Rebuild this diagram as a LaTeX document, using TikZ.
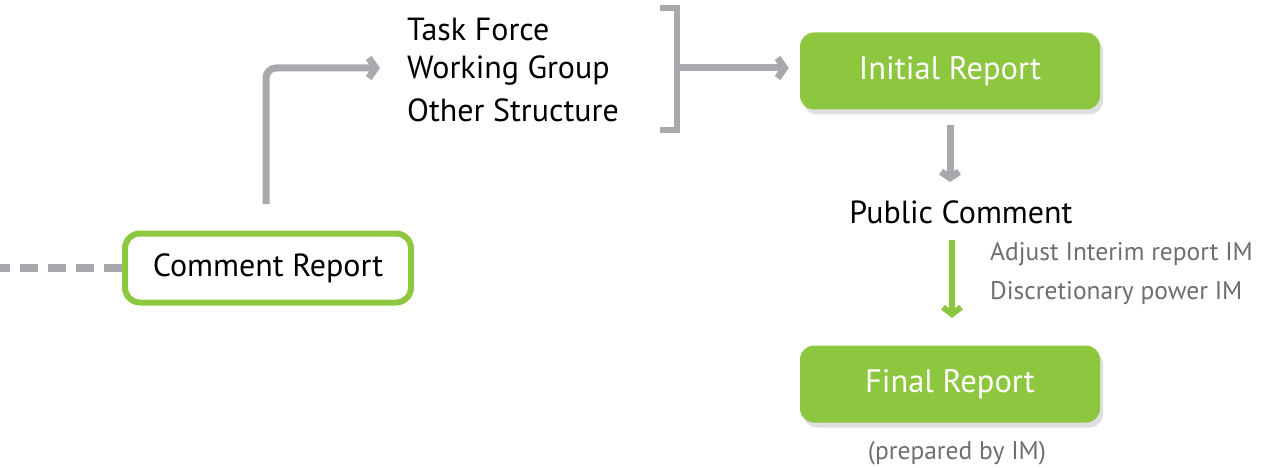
\documentclass[tikz,border=0pt]{standalone}
\usepackage{fontspec}
\setmainfont{PT Sans}
\usetikzlibrary{arrows.meta,shadows}
\definecolor{grn}{HTML}{8DC63F}
\definecolor{gry}{HTML}{A7A9AC}
\definecolor{txtg}{HTML}{6D6E71}
\begin{document}
\begin{tikzpicture}[x=1pt,y=-1pt,
  greybar/.style={draw=gry,line width=7pt},
  garrow/.style={greybar,-{Straight Barb[length=7pt,width=20pt]}},
  greenarrow/.style={draw=grn,line width=6pt,-{Straight Barb[length=7pt,width=18pt]}},
  fillbox/.style={fill=grn,rounded corners=14pt,minimum width=300pt,minimum height=77pt,text=white,font=\fontsize{32.5}{38}\selectfont,
     drop shadow={opacity=0.25,shadow xshift=3pt,shadow yshift=-5pt}},
  outbox/.style={draw=grn,line width=6pt,rounded corners=15pt,minimum width=286pt,minimum height=69pt,font=\fontsize{32}{38}\selectfont,fill=white},
  lbl/.style={font=\fontsize{32}{38}\selectfont,inner sep=0pt},
  smalllbl/.style={font=\fontsize{25.5}{30}\selectfont,text=txtg,inner sep=0pt}
]
\useasboundingbox (0,0) rectangle (1265,468);
% Comment report
\node[outbox] (cr) at (268,268) {Comment Report};
\coordinate (dstart) at (0,268);
\draw[draw=gry,line width=8pt,dash pattern=on 18pt off 10pt,dash phase=8pt] (dstart) -- (cr.west);
% list
\node[lbl,anchor=west] (tf) at (407,29) {Task Force};
\node[lbl,anchor=west] (wg) at (407,71) {Working Group};
\node[lbl,anchor=west] (os) at (407,110) {Other Structure};
\coordinate (elbowstart) at (266,204);
\coordinate (elbowend) at (380,68);
\draw[garrow,rounded corners=10pt] (elbowstart) -- (266,68) -- (elbowend);
% bracket
\coordinate (bt) at (660,8);
\coordinate (bb) at (660,130);
\draw[draw=gry,line width=6pt] (bt) -- (677,8) -- (677,130) -- (bb);
% initial report
\node[fillbox] (ir) at (950,71) {Initial Report};
\coordinate (bm) at (677,68);
\draw[garrow,shorten >=11pt] (bm) -- (bm -| ir.west);
% public comment
\node[lbl] (pc) at (961,212) {Public Comment};
\coordinate (ia) at (950,125);
\draw[garrow,-{Straight Barb[length=6pt,width=18pt]}] (ia) -- (950,182);
% final
\node[fillbox] (fr) at (950,384) {Final Report};
\coordinate (ga) at (952,240);
\coordinate (gb) at (952,318);
\draw[greenarrow] (ga) -- (gb);
\node[smalllbl,anchor=west] (adj) at (990,254) {Adjust Interim report IM};
\node[smalllbl,anchor=west] (disc) at (990,293) {Discretionary power IM};
\node[smalllbl] (prep) at (957,453) {(prepared by IM)};
\end{tikzpicture}
\end{document}
